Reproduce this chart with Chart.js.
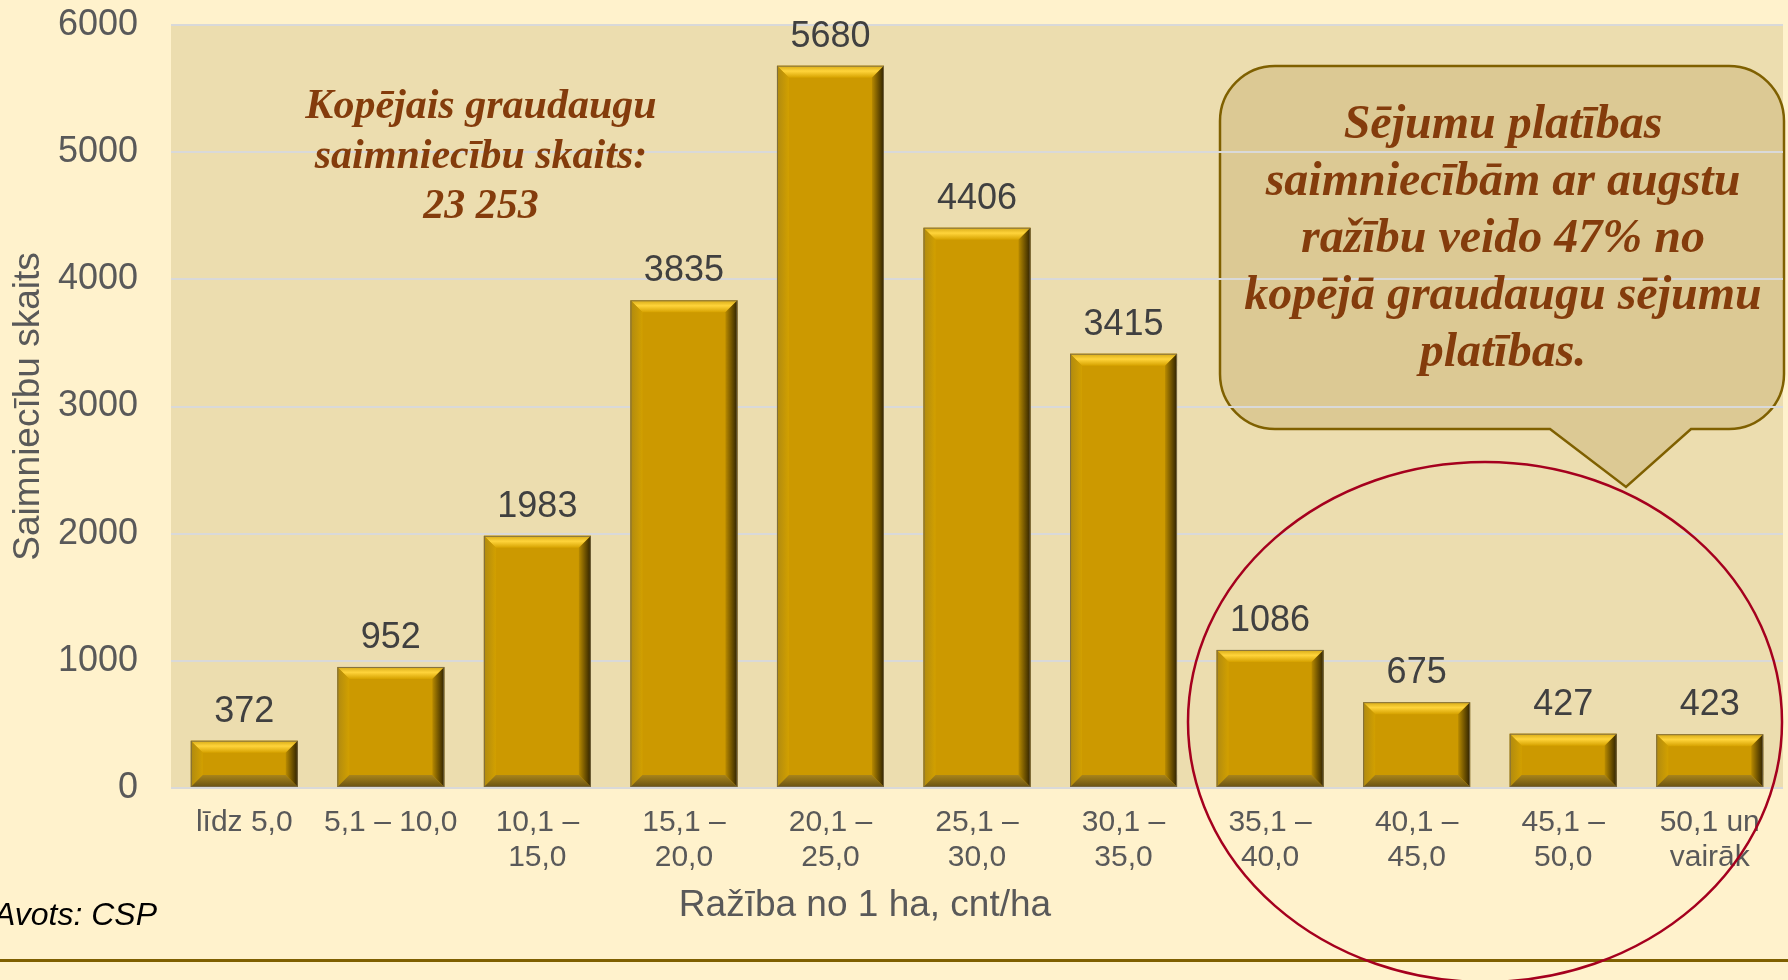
<!DOCTYPE html>
<html><head><meta charset="utf-8">
<script src="https://cdn.jsdelivr.net/npm/chart.js@4.4.1/dist/chart.umd.min.js"></script>
<style>html,body{margin:0;padding:0;background:#FFF2CC;overflow:hidden}canvas{display:block}</style>
</head><body>
<canvas id="c" width="1788" height="980"></canvas>
<script>
// ---- data ----
const categories = [
  'līdz 5,0', '5,1 – 10,0', ['10,1 –', '15,0'], ['15,1 –', '20,0'], ['20,1 –', '25,0'],
  ['25,1 –', '30,0'], ['30,1 –', '35,0'], ['35,1 –', '40,0'], ['40,1 –', '45,0'],
  ['45,1 –', '50,0'], ['50,1 un', 'vairāk']
];
const farmCounts = [372, 952, 1983, 3835, 5680, 4406, 3415, 1086, 675, 427, 423];
const yTickMin = 0;
const yTickMax = 6000;
const yTickStep = 1000;
const yAxisTitle = 'Saimniecību skaits';
const xAxisTitle = 'Ražība no 1 ha, cnt/ha';
const sourceNote = 'Avots: CSP';
const totalNoteLines = ['Kopējais graudaugu', 'saimniecību skaits:', '23 253'];
const calloutLines = ['Sējumu platības', 'saimniecībām ar augstu', 'ražību veido 47% no', 'kopējā graudaugu sējumu', 'platības.'];

const SANS = "'Liberation Sans', Arial, sans-serif";
const SERIF = "'Liberation Serif', 'Times New Roman', serif";

function poly(ctx, pts, fill) {
  ctx.beginPath();
  ctx.moveTo(pts[0][0], pts[0][1]);
  for (let i = 1; i < pts.length; i++) ctx.lineTo(pts[i][0], pts[i][1]);
  ctx.closePath();
  ctx.fillStyle = fill;
  ctx.fill();
}

const backgroundPlugin = {
  id: 'bg',
  beforeDraw(chart) {
    const ctx = chart.ctx, a = chart.chartArea;
    ctx.save();
    ctx.fillStyle = '#FFF2CC';
    ctx.fillRect(0, 0, chart.width, chart.height);
    ctx.fillStyle = '#ECDDAF';
    ctx.fillRect(a.left, a.top, a.right - a.left, a.bottom - a.top);
    // callout box
    const L = 1220, T = 66, R = 1784, B = 429, rad = 55;
    ctx.beginPath();
    ctx.moveTo(L + rad, T);
    ctx.lineTo(R - rad, T);
    ctx.arcTo(R, T, R, T + rad, rad);
    ctx.lineTo(R, B - rad);
    ctx.arcTo(R, B, R - rad, B, rad);
    ctx.lineTo(1691, B);
    ctx.lineTo(1626, 487);
    ctx.lineTo(1550, B);
    ctx.lineTo(L + rad, B);
    ctx.arcTo(L, B, L, B - rad, rad);
    ctx.lineTo(L, T + rad);
    ctx.arcTo(L, T, L + rad, T, rad);
    ctx.closePath();
    ctx.fillStyle = '#DCC994';
    ctx.fill();
    ctx.lineWidth = 2.5;
    ctx.strokeStyle = '#7F6000';
    ctx.stroke();
    ctx.restore();
  }
};

const bevelPlugin = {
  id: 'bevel',
  afterDatasetsDraw(chart) {
    const ctx = chart.ctx;
    const meta = chart.getDatasetMeta(0);
    ctx.save();
    meta.data.forEach((bar, i) => {
      const p = bar.getProps(['x', 'y', 'base', 'width'], true);
      const l = p.x - p.width / 2, r = p.x + p.width / 2;
      const t = Math.min(p.y, p.base), bo = Math.max(p.y, p.base);
      const b = Math.min(12, (bo - t) / 2, p.width / 2);
      let g = ctx.createLinearGradient(0, t, 0, t + b);
      g.addColorStop(0, '#D6A916'); g.addColorStop(0.45, '#FFD43B'); g.addColorStop(1, '#D6A200');
      poly(ctx, [[l, t], [r, t], [r - b, t + b], [l + b, t + b]], g);
      g = ctx.createLinearGradient(l, 0, l + b, 0);
      g.addColorStop(0, '#B08A10'); g.addColorStop(1, '#D2A000');
      poly(ctx, [[l, t], [l + b, t + b], [l + b, bo - b], [l, bo]], g);
      g = ctx.createLinearGradient(r - b, 0, r, 0);
      g.addColorStop(0, '#B88A00'); g.addColorStop(1, '#2E2100');
      poly(ctx, [[r, t], [r - b, t + b], [r - b, bo - b], [r, bo]], g);
      g = ctx.createLinearGradient(0, bo - b, 0, bo);
      g.addColorStop(0, '#A8841A'); g.addColorStop(1, '#6A5312');
      poly(ctx, [[l, bo], [r, bo], [r - b, bo - b], [l + b, bo - b]], g);
      ctx.strokeStyle = 'rgba(120,105,70,0.9)';
      ctx.lineWidth = 1;
      ctx.strokeRect(l + 0.5, t + 0.5, p.width - 1, bo - t - 1);
      // value label
      ctx.fillStyle = '#404040';
      ctx.font = '36px ' + SANS;
      ctx.textAlign = 'center';
      ctx.textBaseline = 'alphabetic';
      ctx.fillText(String(farmCounts[i]), p.x, t - 19);
    });
    ctx.restore();
  }
};

const overlayPlugin = {
  id: 'overlay',
  afterDraw(chart) {
    const ctx = chart.ctx;
    ctx.save();
    // total note
    ctx.fillStyle = '#843C0C';
    ctx.textAlign = 'center';
    ctx.textBaseline = 'alphabetic';
    ctx.font = 'italic bold 42px ' + SERIF;
    totalNoteLines.forEach((s, k) => ctx.fillText(s, 481, 118 + k * 50));
    // callout text
    ctx.font = 'italic bold 48px ' + SERIF;
    calloutLines.forEach((s, k) => ctx.fillText(s, 1503, 138 + k * 57));
    // x axis title
    ctx.fillStyle = '#595959';
    ctx.font = '37px ' + SANS;
    ctx.fillText(xAxisTitle, 865, 916);
    // source
    ctx.fillStyle = '#000000';
    ctx.font = 'italic 32px ' + SANS;
    ctx.textAlign = 'right';
    ctx.fillText(sourceNote, 157, 925);
    // bottom rule
    ctx.fillStyle = '#7F6000';
    ctx.fillRect(0, 959, chart.width, 3);
    // ellipse highlight
    ctx.beginPath();
    ctx.ellipse(1485, 722, 297, 260, 0, 0, Math.PI * 2);
    ctx.strokeStyle = '#A5001E';
    ctx.lineWidth = 2.5;
    ctx.stroke();
    ctx.restore();
  }
};

new Chart(document.getElementById('c'), {
  type: 'bar',
  data: {
    labels: categories,
    datasets: [{
      data: farmCounts,
      backgroundColor: '#CC9900',
      borderWidth: 0,
      barPercentage: 0.73,
      categoryPercentage: 1.0
    }]
  },
  options: {
    responsive: false,
    devicePixelRatio: 1,
    animation: false,
    layout: { padding: { top: 25, right: 5, left: 0, bottom: 0 } },
    plugins: { legend: { display: false }, tooltip: { enabled: false } },
    scales: {
      x: {
        grid: { display: false, drawTicks: false },
        border: { display: false },
        ticks: {
          color: '#595959',
          font: { family: SANS, size: 30, lineHeight: 35 / 30 },
          padding: 17,
          maxRotation: 0,
          autoSkip: false
        },
        afterFit(axis) { axis.height = 192; axis.paddingLeft = 0; axis.paddingRight = 0; }
      },
      y: {
        min: yTickMin,
        max: yTickMax,
        grid: { color: '#D9D9D9', lineWidth: 2, drawTicks: false },
        border: { display: false },
        ticks: {
          stepSize: yTickStep,
          color: '#595959',
          font: { family: SANS, size: 36 },
          padding: 33,
          callback: (v) => String(v)
        },
        title: {
          display: true,
          text: yAxisTitle,
          color: '#595959',
          font: { family: SANS, size: 37, lineHeight: 1.2 },
          padding: { top: 7, bottom: 0 }
        },
        afterFit(axis) { axis.width = 171; axis.paddingTop = 0; axis.paddingBottom = 0; }
      }
    }
  },
  plugins: [backgroundPlugin, bevelPlugin, overlayPlugin]
});
</script>
</body></html>
